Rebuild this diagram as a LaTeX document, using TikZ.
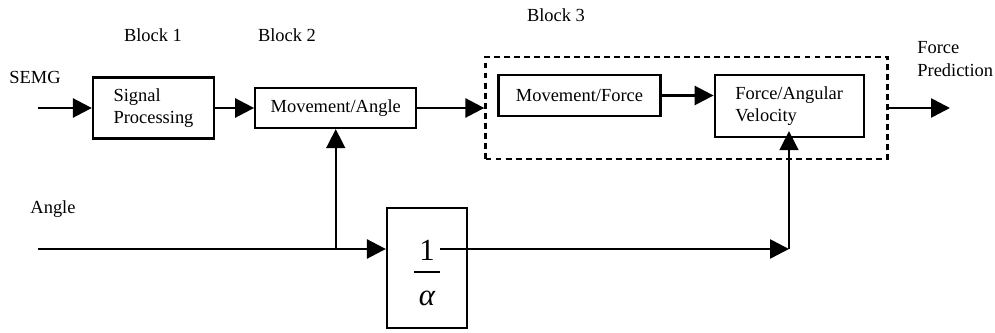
\documentclass[tikz,border=0pt]{standalone}
\usepackage{fontspec}
\setmainfont{Liberation Serif}
\usetikzlibrary{positioning,arrows.meta}

\begin{document}
\begin{tikzpicture}[
  x=0.02cm, y=-0.02cm,
  box/.style={draw, line width=1.3pt, align=left, inner sep=0pt,
              font=\fontsize{10.5}{12.8}\selectfont},
  lbl/.style={inner sep=0pt, align=left, font=\fontsize{10.5}{12.8}\selectfont},
  arr/.style={-{Triangle[length=0.38cm,width=0.38cm]}, line width=1.5pt},
  feed/.style={arr, line width=0.9pt}
]
  \useasboundingbox (0,0) rectangle (995,333);

  % upper chain
  \node[box, minimum width=2.42cm, minimum height=1.22cm] (sp) at (153.5,108) {Signal\\Processing};
  \node[box, minimum width=3.22cm, minimum height=0.8cm, right=0.78cm of sp] (ma) {Movement/Angle};
  \node[draw, dash pattern=on 3.4pt off 2.3pt, line width=1.3pt,
        minimum width=8.04cm, minimum height=2.04cm, right=1.34cm of ma] (blk3) {};
  \node[box, minimum width=3.24cm, minimum height=0.82cm,
        below right=0.36cm and 0.26cm of blk3.north west] (mf) {Movement/Force};
  \node[box, minimum width=2.98cm, minimum height=1.24cm,
        right=1.04cm of mf.north east, anchor=north west] (fav) {Force/Angular\\Velocity};

  % gain block
  \node[box, minimum width=1.6cm, minimum height=2.4cm] (inv) at (427,268) {};
  \node[inner sep=0pt, font=\fontsize{17.5}{20}\selectfont] (one) at (427,250) {1};
  \node[inner sep=0pt, font=\fontsize{17.5}{20}\selectfont] (alph) at (427,298) {\itshape α};
  \draw[line width=0.7pt] (414,272) -- (440,272);

  % labels
  \node[lbl] (semg) at (35,77) {SEMG};
  \node[lbl] (b1) at (153,35) {Block 1};
  \node[lbl] (b2) at (287,35) {Block 2};
  \node[lbl] (b3) at (556,15) {Block 3};
  \node[lbl] (ang) at (53,209) {Angle};
  \node[lbl, anchor=west] (fp) at (917,59) {Force\\Prediction};

  \coordinate (semgin) at (38,108);
  \coordinate (angin) at (38,249);
  \coordinate (split) at (ma.south |- angin);
  \coordinate (invout) at (440,249);
  \coordinate (turn) at (789,249);
  \coordinate (fpout) at (950,108);

  \draw[arr] (semgin) -- (sp.west);
  \draw[arr] (sp) -- (ma);
  \draw[arr] (ma) -- (ma.east -| blk3.west);
  \draw[arr] (mf.east) -- (mf.east -| fav.west);
  \draw[arr] (blk3.east) -- (fpout);
  \draw[arr] (angin) -- (angin -| inv.west);
  \draw[feed] (split) -- (ma.south);
  \draw[arr] (invout) -- (turn);
  \draw[feed] (turn) -- ([yshift=0.14cm]turn |- fav.south);
\end{tikzpicture}
\end{document}
